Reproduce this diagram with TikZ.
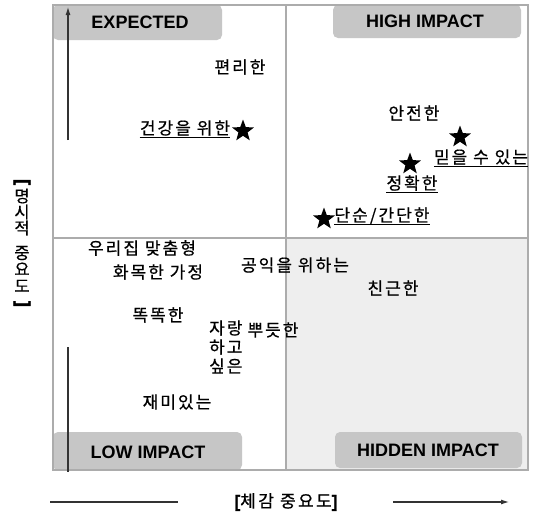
\documentclass[tikz,border=0pt]{standalone}
\usepackage{fontspec}
\setmainfont{Liberation Sans}
\newfontfamily\kr[LetterSpace=12,FakeBold=0.6]{Noto Sans CJK KR}
\newfontfamily\kraxis[LetterSpace=14,FakeBold=0.5]{Noto Sans CJK KR}
\newfontfamily\krv[FakeBold=0.5]{Noto Sans CJK KR}
\newfontfamily\brk[FakeBold=2.5]{Liberation Sans}
\usetikzlibrary{shapes.geometric,arrows.meta}
\begin{document}
\begin{tikzpicture}[x=1pt,y=-1pt,
  kw/.style={font=\kr\fontsize{17}{20}\selectfont,inner sep=0pt,anchor=center},
  vch/.style={font=\krv\fontsize{16.5}{17}\selectfont,inner sep=0pt},
  vbr/.style={font=\brk\bfseries\fontsize{18}{18}\selectfont,inner sep=0pt,rotate=-90},
  qlabel/.style={font=\bfseries\fontsize{18}{20}\selectfont,inner sep=0pt},
  lblbox/.style={fill=gray!45,draw=none,rounded corners=5pt},
  frame/.style={draw=gray!65,line width=1.3pt},
  axis/.style={draw=black!80,line width=1.1pt},
  starmark/.style={star,star points=5,star point ratio=2.4,minimum size=23pt,inner sep=0pt,fill=black,draw=none},
  uline/.style={draw=black,line width=0.9pt}]
\useasboundingbox (0,0) rectangle (537,517);
\fill[white] (0,0) rectangle (537,517);
% hidden-impact quadrant shading
\fill[gray!13] (286,238) rectangle (528,470);
% label boxes
\path[lblbox] (53,5) rectangle (222,40);
\path[lblbox] (333,5) rectangle (521,38);
\path[lblbox] (53,432) rectangle (242,470);
\path[lblbox] (335,432) rectangle (522,468);
% frame and dividers
\draw[frame] (53,5) rectangle (528,470);
\draw[frame] (286,5) -- (286,470);
\draw[frame] (53,238) -- (528,238);
% quadrant labels
\node[qlabel] (qe) at (140,22) {EXPECTED};
\node[qlabel] (qh) at (425,21) {HIGH IMPACT};
\node[qlabel] (ql) at (148,452) {LOW IMPACT};
\node[qlabel] (qd) at (428,450) {HIDDEN IMPACT};
% keywords
\node[kw] (k1) at (240,67) {편리한};
\node[kw] (k2) at (185,128) {건강을 위한};
\draw[uline] ([yshift=-3pt]k2.base west) -- ([yshift=-3pt]k2.base east);
\node[starmark] (s1) at (243,131) {};
\node[kw] (k3) at (414,113) {안전한};
\node[starmark] (s2) at (460,137) {};
\node[kw] (k4) at (481,157) {믿을 수 있는};
\draw[uline] ([yshift=-3pt]k4.base west) -- ([yshift=-3pt]k4.base east);
\node[starmark] (s3) at (410,164) {};
\node[kw] (k5) at (412,183) {정확한};
\draw[uline] ([yshift=-3pt]k5.base west) -- ([yshift=-3pt]k5.base east);
\node[starmark] (s4) at (324,219) {};
\node[kw] (k6) at (382,216) {단순/간단한};
\draw[uline] ([yshift=-3pt]k6.base west) -- ([yshift=-3pt]k6.base east);
\node[kw] (k7) at (142,248) {우리집 맞춤형};
\node[kw] (k8) at (158,272) {화목한 가정};
\node[kw] (k9) at (295,265) {공익을 위하는};
\node[kw] (k10) at (393,288) {친근한};
\node[kw] (k11) at (158,315) {똑똑한};
\node[kw,anchor=west] (k12) at (209,328) {자랑};
\node[kw,anchor=west] (k13) at (209,347) {하고};
\node[kw,anchor=west] (k14) at (209,366) {싶은};
\node[kw] (k15) at (273,330) {뿌듯한};
\node[kw] (k16) at (177,402) {재미있는};
% vertical axis
\coordinate (ya) at (68,140);
\coordinate (yb) at (68,7);
\coordinate (yc) at (68,347);
\coordinate (yd) at (68,472);
\draw[axis,-{Latex[length=8pt,width=5pt]}] (ya) -- (yb);
\draw[axis] (yc) -- (yd);
\node[vbr] (v0) at (22,182) {[};
\node[vch] (v1) at (22,196) {명};
\node[vch] (v2) at (22,212) {시};
\node[vch] (v3) at (22,228) {적};
\node[vch] (v4) at (22,253) {중};
\node[vch] (v5) at (22,269) {요};
\node[vch] (v6) at (22,286) {도};
\node[vbr] (v7) at (22,304) {]};
% horizontal axis
\coordinate (xa) at (50,502);
\coordinate (xb) at (178,502);
\coordinate (xc) at (393,502);
\coordinate (xd) at (509,502);
\draw[axis] (xa) -- (xb);
\draw[axis,-{Latex[length=8pt,width=5pt]}] (xc) -- (xd);
\node[font=\kraxis\fontsize{17}{20}\selectfont,inner sep=0pt] (xl) at (286,502) {{\brk\bfseries[}체감 중요도{\brk\bfseries]}};
\end{tikzpicture}
\end{document}
